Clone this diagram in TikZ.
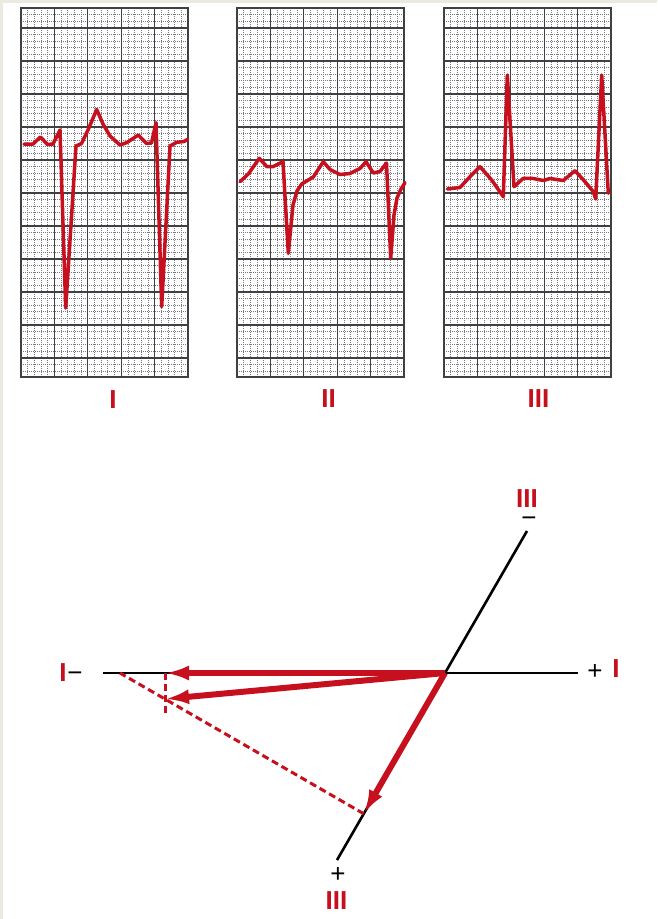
\documentclass[tikz,border=0pt]{standalone}
\usepackage{fontspec}
\usepackage{tikz}
\usetikzlibrary{arrows.meta,calc}
\newfontfamily\cimkefont{Liberation Sans}
\definecolor{ekgpiros}{RGB}{198,16,30}
\definecolor{racsszin}{RGB}{120,118,130}
\definecolor{keret}{RGB}{236,234,224}
\newcommand{\papir}[1]{%
  \begin{scope}[xshift=#1]
    \fill[white] (0,8) rectangle (167,377);
    \foreach \k in {1,...,24} \draw[kisracs] (\k*6.68,8) -- (\k*6.68,377);
    \foreach \k in {1,...,55} \draw[kisracs] (0,8+\k*6.6) -- (167,8+\k*6.6);
    \foreach \k in {1,...,4} \draw[nagyracs] (\k*33.4,8) -- (\k*33.4,377);
    \foreach \k in {0,...,10} \draw[nagyracs] (0,28+\k*33) -- (167,28+\k*33);
    \draw[nagyracs] (0,8) rectangle (167,377);
  \end{scope}}
\tikzset{
  kisracs/.style={racsszin,line width=0.7pt,dash pattern=on 1pt off 1pt},
  nagyracs/.style={black!75,line width=1.1pt},
  gorbe/.style={ekgpiros,line width=3.5pt,line join=round,line cap=round},
  tengely/.style={black,line width=2.6pt},
  vektor/.style={ekgpiros,line width=6pt,-{Latex[length=24pt,width=15pt]}},
  vetulet/.style={ekgpiros,line width=3pt,dash pattern=on 7pt off 4pt},
  elv/.style={text=ekgpiros,font=\cimkefont\bfseries\fontsize{26}{26}\selectfont,inner sep=0pt},
  jel/.style={font=\cimkefont\fontsize{26}{26}\selectfont,inner sep=0pt},
}
\begin{document}
\begin{tikzpicture}[x=1pt,y=-1pt]
  \useasboundingbox (0,0) rectangle (657,919);
  \fill[keret] (0,0) rectangle (657,919);
  \fill[white] (3,3) rectangle (657,919);
  % papircsikok
  \papir{21}
  \papir{237}
  \papir{444}
  % elvezetesek gorbei
  \draw[gorbe] (24,144) -- (33,144) -- (40.5,137) -- (47.5,144.5) -- (53,144) -- (60,130) -- (65.7,308)
    -- (76,146) -- (81.5,143.5) -- (88,130) -- (96.7,109.5) -- (103,124) -- (110,136) -- (120,145)
    -- (127,142.5) -- (138.3,135) -- (146.5,143.5) -- (151.5,143) -- (156,122.7) -- (161.7,306.7)
    -- (170,146) -- (176.7,142.3) -- (184,141.5) -- (187.7,139.3);
  \draw[gorbe] (240,181.7) -- (248.3,174) -- (259.3,158.3) -- (266.7,166.5) -- (273.3,166.5) -- (283,161.7)
    -- (288.3,253.3) -- (293,205) -- (297,191) -- (301.7,184) -- (313.3,177) -- (323.3,161.7) -- (330,169.5)
    -- (340,174.5) -- (350,173.5) -- (360,168.5) -- (366,161.7) -- (373.3,173) -- (380,171.5) -- (386.5,163)
    -- (390.7,258.3) -- (394,215) -- (397,198) -- (401,189) -- (405,182.7);
  \draw[gorbe] (447.3,189) -- (460,187.5) -- (470,176.7) -- (480,166.7) -- (491.7,180) -- (503.3,196.7)
    -- (507.3,75) -- (514,186.7) -- (523.3,178.3) -- (533.3,178.5) -- (543.3,180.5) -- (550,178.5)
    -- (563.3,180.5) -- (575,170.7) -- (585,181.7) -- (593.3,191.7) -- (595.7,199) -- (601.7,75) -- (608.3,193.3);
  \node[elv] (cimI) at (113,400) {I};
  \node[elv] (cimII) at (328.5,399) {II};
  \node[elv] (cimIII) at (538.5,399) {III};
  % tengelyek
  \coordinate (O) at (445,673);
  \coordinate (Ibal) at (103,673);
  \coordinate (Ijobb) at (578,673);
  \coordinate (IIIfel) at ($(O)+(-60:164)$);
  \coordinate (IIIal) at ($(O)+(120:216)$);
  \coordinate (R) at (165,699);
  \coordinate (P1) at ($(O)!(R)!(Ibal)$);
  \coordinate (P3) at ($(O)!(R)!(IIIal)$);
  \coordinate (Q) at (intersection of P3--R and Ibal--Ijobb);
  \draw[tengely] (Ibal) -- (Ijobb);
  \draw[tengely] (IIIal) -- (IIIfel);
  % vektorok es vetuletek
  \draw[vektor] (O) -- (P1);
  \draw[vektor] (O) -- (R);
  \draw[vektor] (O) -- (P3);
  \draw[vetulet] (P1) -- ($(P1)!1.65!(R)$);
  \draw[vetulet] (P3) -- (Q);
  % feliratok
  \node[elv] (balI) at (63,673) {I};
  \node[jel,anchor=base] (balminus) at (75,681) {\smash{−}};
  \node[jel] (jobbplus) at (595,672) {+};
  \node[elv] (jobbI) at (616,669) {I};
  \node[elv] (felIII) at (527,499) {III};
  \node[jel,anchor=base] (felminus) at (529,526) {\smash{−}};
  \node[jel] (alplus) at (338,875) {+};
  \node[elv] (alIII) at (336.5,901) {III};
\end{tikzpicture}
\end{document}
